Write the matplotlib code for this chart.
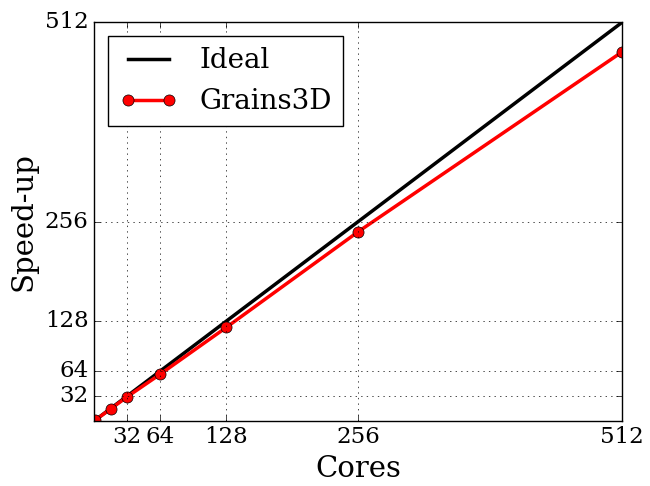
import matplotlib
matplotlib.use("Agg")
import matplotlib.pyplot as plt

plt.style.use("classic")
plt.rcParams["font.family"] = "DejaVu Serif"

# data
cores = [1, 16, 32, 64, 128, 256, 512]
ideal = [1, 16, 32, 64, 128, 256, 512]
grains = [1, 15.5, 31, 60, 120, 243, 474]
ticks = [32, 64, 128, 256, 512]

fig = plt.figure(figsize=(6.5, 4.86), dpi=100, facecolor="white")
ax = fig.add_axes([0.145, 0.134, 0.812, 0.82])

ax.plot(cores, ideal, color="black", lw=2.5, label="Ideal")
ax.plot(cores, grains, color="red", lw=2.5, marker="o", markersize=8,
        markerfacecolor="red", markeredgecolor="black", label="Grains3D")

ax.set_xlim(0, 512)
ax.set_ylim(0, 512)
ax.set_xticks(ticks)
ax.set_yticks(ticks)
ax.tick_params(labelsize=16.5)
ax.grid(True, linestyle=":", color="black")
ax.set_xlabel("Cores", fontsize=21)
ax.set_ylabel("Speed-up", fontsize=21)

ax.legend(loc="upper left", fontsize=20, numpoints=2, handlelength=2.1)

fig.savefig("out.png", dpi=100)
